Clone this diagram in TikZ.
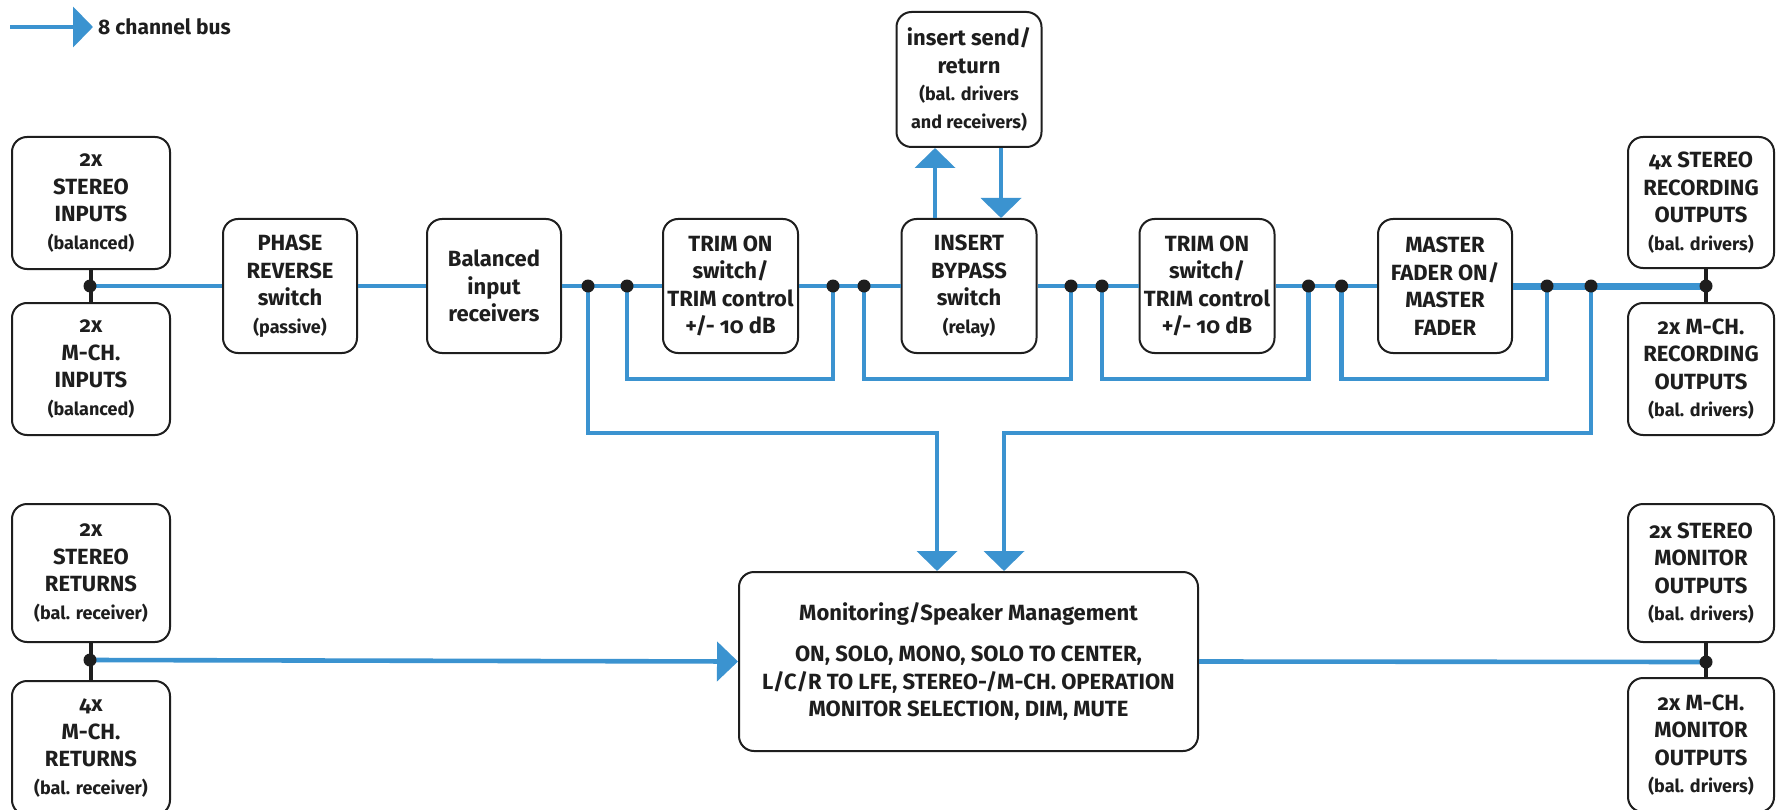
\documentclass[tikz,border=0pt]{standalone}
\usepackage{fontspec}
\setmainfont{Fira Sans}[Numbers=OldStyle]
\usetikzlibrary{arrows.meta}
\definecolor{bus}{RGB}{59,147,208}
\definecolor{ink}{RGB}{30,30,30}
\newcommand\bigf{\fontsize{22}{27.5}\selectfont\bfseries}
\newcommand\smallf{\fontsize{18}{24}\selectfont\bfseries}
\tikzset{
  box/.style={draw=ink, line width=2pt, rounded corners=15pt, fill=white,
    align=center, inner sep=0pt, font=\bigf, text=ink},
  busline/.style={draw=bus, line width=4.3pt},
  busthick/.style={draw=bus, line width=7pt},
  busmid/.style={draw=bus, line width=4.6pt},
  dotnode/.style={circle, fill=ink, inner sep=0pt, minimum size=13pt},
  tick/.style={draw=ink, line width=3.6pt},
  tip/.style={-{Triangle[length=20pt,width=40pt]}},
}
\begin{document}
\begin{tikzpicture}[x=1pt,y=-1pt]
\useasboundingbox (0,0) rectangle (1776,810);
\fill[white] (0,0) rectangle (1776,810);

% legend
\coordinate (lg0) at (10,27);
\coordinate (lg1) at (93,27);
\node[anchor=west, inner sep=0pt, font=\fontsize{21}{25}\selectfont\bfseries, text=ink] (lgt) at (98,27) {8 channel bus};
\draw[busline, tip] (lg0) -- (lg1);

% boxes top row
\node[box, minimum width=158pt, minimum height=132pt] (inS) at (91,203) {2x\\STEREO\\INPUTS\\{\smallf (balanced)}};
\node[box, minimum width=158pt, minimum height=132pt] (inM) at (91,369) {2x\\M-CH.\\INPUTS\\{\smallf (balanced)}};
\node[box, minimum width=134pt, minimum height=134pt] (phase) at (290,286) {PHASE\\REVERSE\\switch\\{\smallf (passive)}};
\node[box, minimum width=134pt, minimum height=134pt] (bal) at (494,286) {Balanced\\input\\receivers};
\node[box, minimum width=135pt, minimum height=134pt] (trimA) at (730.5,286) {TRIM ON\\switch/\\TRIM control\\+/- 10 dB};
\node[box, minimum width=135pt, minimum height=134pt] (byp) at (969,286) {INSERT\\BYPASS\\switch\\{\smallf (relay)}};
\node[box, minimum width=145pt, minimum height=135pt] (ins) at (969,79.5) {insert send/\\return\\{\smallf (bal. drivers}\\{\smallf and receivers)}};
\node[box, minimum width=135pt, minimum height=134pt] (trimB) at (1207,286) {TRIM ON\\switch/\\TRIM control\\+/- 10 dB};
\node[box, minimum width=134pt, minimum height=134pt] (master) at (1445,286) {MASTER\\FADER ON/\\MASTER\\FADER};
\node[box, minimum width=146pt, minimum height=131pt] (outS) at (1701,202.5) {4x STEREO\\RECORDING\\OUTPUTS\\{\smallf (bal. drivers)}};
\node[box, minimum width=146pt, minimum height=132pt] (outM) at (1701,369) {2x M-CH.\\RECORDING\\OUTPUTS\\{\smallf (bal. drivers)}};

% bottom row
\node[box, minimum width=158pt, minimum height=138pt] (retS) at (91,573) {2x\\STEREO\\RETURNS\\{\smallf (bal. receiver)}};
\node[box, minimum width=158pt, minimum height=134pt] (retM) at (91,748) {4x\\M-CH.\\RETURNS\\{\smallf (bal. receiver)}};
\node[box, minimum width=459pt, minimum height=179pt] (mon) at (968.5,661.5) {Monitoring/Speaker Management\\[14pt]ON, SOLO, MONO, SOLO TO CENTER,\\L/C/R TO LFE, STEREO-/M-CH. OPERATION\\MONITOR SELECTION, DIM, MUTE};
\node[box, minimum width=146pt, minimum height=138pt] (monS) at (1701,573) {2x STEREO\\MONITOR\\OUTPUTS\\{\smallf (bal. drivers)}};
\node[box, minimum width=146pt, minimum height=134pt] (monM) at (1701,745) {2x M-CH.\\MONITOR\\OUTPUTS\\{\smallf (bal. drivers)}};

% helper coordinates
\coordinate (loopy) at (0,379);
\coordinate (longy) at (0,433);
\coordinate (mL) at (937,0);
\coordinate (mR) at (1004,0);
\coordinate (aU) at (935,0);
\coordinate (aD) at (1001,0);

% junction points
\coordinate (jin) at (90,286);
\coordinate (jout) at (1706,286);
\coordinate (jret) at (90,660);
\coordinate (jmon) at (1706,662);
\coordinate (d1) at (588,286);
\coordinate (d2) at (627,286);
\coordinate (d3) at (833,286);
\coordinate (d4) at (864,286);
\coordinate (d5) at (1071,286);
\coordinate (d6) at (1102,286);
\coordinate (d7) at (1308.5,286);
\coordinate (d8) at (1341.6,286);
\coordinate (d9) at (1547,286);
\coordinate (d10) at (1591,286);

% main bus
\draw[busline] (jin) -- (phase.west);
\draw[busline] (phase.east) -- (bal.west);
\draw[busline] (bal.east) -- (trimA.west);
\draw[busline] (trimA.east) -- (byp.west);
\draw[busline] (byp.east) -- (trimB.west);
\draw[busline] (trimB.east) -- (master.west);
\draw[busthick] (master.east) -- (jout);

% bypass loops
\draw[busline] (d2) -- (d2 |- loopy) -- (d3 |- loopy) -- (d3);
\draw[busline] (d4) -- (d4 |- loopy) -- (d5 |- loopy) -- (d5);
\draw[busline] (d6) -- (d6 |- loopy) -- (d7 |- loopy) -- (d7);
\draw[busline] (d8) -- (d8 |- loopy) -- (d9 |- loopy) -- (d9);

% branches to monitoring
\draw[busline, tip] (d1) -- (d1 |- longy) -- (mL |- longy) -- (mL |- mon.north);
\draw[busline, tip] (d10) -- (d10 |- longy) -- (mR |- longy) -- (mR |- mon.north);

% insert send/return
\draw[busline, tip] (aU |- byp.north) -- (aU |- ins.south);
\draw[busline, tip] (aD |- ins.south) -- (aD |- byp.north);

% returns and monitor outputs
\draw[busmid, -{Triangle[length=21pt,width=39pt]}] (jret) -- (mon.west);
\draw[busmid] (mon.east) -- (jmon);

% junction ticks
\draw[tick] (inS.south) -- (inM.north);
\draw[tick] (outS.south -| jout) -- (outM.north -| jout);
\draw[tick] (retS.south) -- (retM.north);
\draw[tick] (monS.south -| jmon) -- (monM.north -| jmon);

% dots
\foreach \p in {jin,jout,jret,jmon,d1,d2,d3,d4,d5,d6,d7,d8,d9,d10}
  \node[dotnode] at (\p) {};
\end{tikzpicture}
\end{document}
